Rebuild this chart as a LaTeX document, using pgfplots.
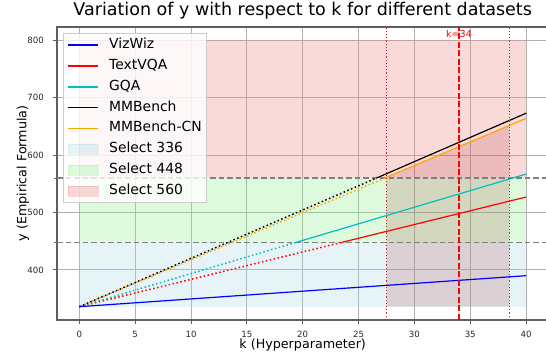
\documentclass[border=0pt]{standalone}
\usepackage{pgfplots}
\pgfplotsset{compat=1.18}
\usepackage{fontspec}
\setmainfont{DejaVu Sans}
\definecolor{vzblue}{RGB}{0,0,255}
\definecolor{tvred}{RGB}{255,0,0}
\definecolor{gqacyan}{RGB}{0,191,191}
\definecolor{mborange}{RGB}{255,165,0}
\definecolor{lblue}{RGB}{173,216,230}
\definecolor{lgreen}{RGB}{144,238,144}
\definecolor{lcoral}{RGB}{240,128,128}
\definecolor{mybrown}{RGB}{165,42,42}
\definecolor{gridc}{RGB}{176,176,176}
\definecolor{spinec}{RGB}{95,95,95}
\definecolor{vdot}{RGB}{205,40,50}
\pgfplotsset{
  patchlegend/.style={legend image code/.code={\path[##1] (0pt,-5pt) rectangle (30pt,5pt);}},
}
\begin{document}
\begin{tikzpicture}
\begin{axis}[
  at={(0,0)}, anchor=south west,
  scale only axis, width=491.4pt, height=293pt,
  xmin=-2, xmax=42, ymin=312.8, ymax=823.2,
  xtick={0,5,...,40}, ytick={400,500,600,700,800},
  extra y ticks={448,560}, extra y tick labels={},
  extra y tick style={grid=none, major tick length=2.5pt},
  grid=major, grid style={color=gridc, line width=0.9pt},
  axis line style={color=spinec, line width=1.2pt},
  tick style={color=spinec, line width=1pt}, major tick length=4.4pt,
  tick align=outside, xtick pos=lower, ytick pos=left,
  /pgf/number format/assume math mode=true,
  tick label style={font=\fontsize{8.6}{10}\selectfont, text=black!85, inner sep=0pt},
  xticklabel style={yshift=-6.8pt}, yticklabel style={xshift=-8.5pt},
  title={Variation of y with respect to k for different datasets},
  title style={font=\fontsize{17.5}{21}\selectfont, at={(axis description cs:0.5,1)}, anchor=center, yshift=10.5pt},
  xlabel={k (Hyperparameter)},
  xlabel style={font=\fontsize{12.7}{15}\selectfont, inner sep=0pt, at={(axis description cs:0.5,0)}, anchor=center, yshift=-25pt},
  ylabel={y (Empirical Formula)},
  ylabel style={font=\fontsize{12.7}{15}\selectfont, at={(axis description cs:-0.0692,0.5)}, anchor=center},
  legend image code/.code={\draw[#1] (0pt,0pt) -- (30pt,0pt);},
  legend cell align=left,
  legend style={at={(axis description cs:0,1)}, anchor=north west, xshift=6pt, yshift=-6.5pt,
    font=\fontsize{13.9}{16}\selectfont, draw=black!20, fill=white, fill opacity=0.8,
    text opacity=1, draw opacity=1, inner xsep=4pt, inner ysep=4pt, row sep=5.8pt,
    nodes={inner sep=1pt, text height=10pt, text depth=3pt},
    /tikz/every odd column/.append style={column sep=9.5pt}},
]
% bands
\addplot[draw=none, fill=lblue, fill opacity=0.3, forget plot] coordinates {(0,336) (40,336) (40,448) (0,448)} -- cycle;
\addplot[draw=none, fill=lgreen, fill opacity=0.3, forget plot] coordinates {(0,448) (40,448) (40,560) (0,560)} -- cycle;
\addplot[draw=none, fill=lcoral, fill opacity=0.3, forget plot] coordinates {(0,560) (40,560) (40,800) (0,800)} -- cycle;
% shaded k range
\addplot[draw=none, fill=mybrown, fill opacity=0.17, forget plot] coordinates {(27.5,336) (38.5,336) (38.5,651.7) (27.5,561.5)} -- cycle;
% threshold lines
\addplot[gray, line width=1.4pt, dash pattern=on 5.5pt off 3pt, forget plot] coordinates {(-2,448) (42,448)};
\addplot[gray, line width=1.4pt, dash pattern=on 5.5pt off 3pt, forget plot] coordinates {(-2,560) (42,560)};
% dotted parts
\addplot[tvred, line width=1.5pt, dash pattern=on 1.5pt off 2.5pt, forget plot] coordinates {(0,336) (23.5,448)};
\addplot[gqacyan, line width=1.5pt, dash pattern=on 1.5pt off 2.5pt, forget plot] coordinates {(0,336) (19.4,448)};
\addplot[black, line width=1.5pt, dash pattern=on 1.5pt off 2.5pt, forget plot] coordinates {(0,336) (26.6,560)};
\addplot[mborange, line width=1.5pt, dash pattern=on 1.5pt off 2.5pt, dash phase=2pt, forget plot] coordinates {(0,336) (27.35,560)};
% solid parts
\addplot[vzblue, line width=1.2pt, forget plot] coordinates {(0,336) (40,390)};
\addplot[tvred, line width=1.2pt, forget plot] coordinates {(23.5,448) (40,527)};
\addplot[gqacyan, line width=1.2pt, forget plot] coordinates {(19.4,448) (40,567)};
\addplot[black, line width=1.2pt, forget plot] coordinates {(26.6,560) (40,673)};
\addplot[mborange, line width=1.2pt, forget plot] coordinates {(27.35,560) (40,664)};
% vertical markers
\addplot[vdot, line width=1.2pt, dash pattern=on 1.2pt off 2pt, forget plot] coordinates {(27.5,312.8) (27.5,823.2)};
\addplot[vdot, line width=1.2pt, dash pattern=on 1.2pt off 2pt, forget plot] coordinates {(38.5,312.8) (38.5,823.2)};
\addplot[tvred, line width=1.5pt, dash pattern=on 6pt off 2.5pt, forget plot] coordinates {(34,312.8) (34,823.2)};
\node[text=tvred, font=\fontsize{9.6}{11}\selectfont, inner sep=0pt] at (axis cs:34,811.5) {k=34};
% legend
\addlegendimage{vzblue, line width=1.5pt}\addlegendentry{VizWiz}
\addlegendimage{tvred, line width=1.5pt}\addlegendentry{TextVQA}
\addlegendimage{gqacyan, line width=1.5pt}\addlegendentry{GQA}
\addlegendimage{black, line width=1.5pt}\addlegendentry{MMBench}
\addlegendimage{mborange, line width=1.5pt}\addlegendentry{MMBench-CN}
\addlegendimage{patchlegend, fill=lblue, fill opacity=0.3, draw=lblue, draw opacity=0.3}\addlegendentry{Select 336}
\addlegendimage{patchlegend, fill=lgreen, fill opacity=0.3, draw=lgreen, draw opacity=0.3}\addlegendentry{Select 448}
\addlegendimage{patchlegend, fill=lcoral, fill opacity=0.3, draw=lcoral, draw opacity=0.3}\addlegendentry{Select 560}
\end{axis}
\pgfresetboundingbox
\useasboundingbox (-57pt,-33pt) rectangle (489pt,320pt);
\end{tikzpicture}
\end{document}
